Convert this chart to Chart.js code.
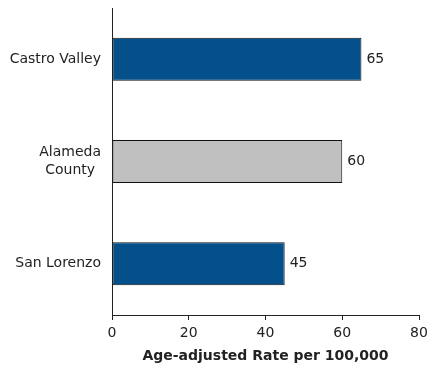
<!DOCTYPE html>
<html>
<head>
<meta charset="utf-8">
<script src="https://cdn.jsdelivr.net/npm/chart.js@4/dist/chart.umd.min.js"></script>
<style>
    html, body { margin: 0; padding: 0; background: #fff; }
    #wrap { width: 427px; height: 371px; }
</style>
</head>
<body>
<div id="wrap"><canvas id="myChart"></canvas></div>
<script>
const categories = ['Castro Valley', ['Alameda', 'County'], 'San Lorenzo'];
const rates = [65, 60, 45];
const barColors = ['#03508a', '#c0c0c0', '#03508a'];
const xTicks = [0, 20, 40, 60, 80];

const FONT = '14px "DejaVu Sans", Verdana, sans-serif';
Chart.defaults.font.family = '"DejaVu Sans", Verdana, sans-serif';
Chart.defaults.font.size = 14;
Chart.defaults.color = '#222';

// value labels at the end of each bar
const valueLabels = {
    id: 'valueLabels',
    afterDatasetsDraw(chart) {
        const ctx = chart.ctx;
        const meta = chart.getDatasetMeta(0);
        ctx.save();
        ctx.font = FONT;
        ctx.fillStyle = '#222';
        ctx.textAlign = 'left';
        ctx.textBaseline = 'middle';
        meta.data.forEach((bar, i) => {
            ctx.fillText(String(rates[i]), bar.x + 5, bar.y);
        });
        ctx.restore();
    }
};

// category labels: right-aligned block, lines centred inside it
const categoryLabels = {
    id: 'categoryLabels',
    afterDraw(chart) {
        const ctx = chart.ctx;
        const yScale = chart.scales.y;
        const rightEdge = chart.chartArea.left - 11;
        const lineH = 18;
        ctx.save();
        ctx.font = FONT;
        ctx.fillStyle = '#222';
        ctx.textAlign = 'center';
        ctx.textBaseline = 'middle';
        categories.forEach((label, i) => {
            const lines = Array.isArray(label) ? label : [label];
            const w = Math.max(...lines.map(l => ctx.measureText(l).width));
            const cx = rightEdge - w / 2;
            const cy = yScale.getPixelForTick(i);
            lines.forEach((line, j) => {
                ctx.fillText(line, cx, cy + (j - (lines.length - 1) / 2) * lineH);
            });
        });
        ctx.restore();
    }
};

new Chart(document.getElementById('myChart'), {
    type: 'bar',
    data: {
        labels: categories,
        datasets: [{
            data: rates,
            backgroundColor: barColors,
            borderColor: '#111',
            borderWidth: 1,
            borderSkipped: false,
            categoryPercentage: 1,
            barPercentage: 0.42
        }]
    },
    options: {
        indexAxis: 'y',
        responsive: true,
        maintainAspectRatio: false,
        animation: false,
        layout: {padding: {top: 8, right: 8, left: 0, bottom: 0}},
        plugins: {
            legend: {display: false},
            tooltip: {enabled: false}
        },
        scales: {
            x: {
                min: 0,
                max: 80,
                afterBuildTicks: (scale) => {
                    scale.ticks = xTicks.map(v => ({value: v}));
                },
                afterFit: (scale) => {
                    scale.height = 56;
                    scale.paddingLeft = 0;
                    scale.paddingRight = 0;
                },
                grid: {
                    drawOnChartArea: false,
                    drawTicks: true,
                    tickLength: 5,
                    color: '#222'
                },
                border: {color: '#222', width: 1},
                ticks: {padding: 5, color: '#222'},
                title: {
                    display: true,
                    text: 'Age-adjusted Rate per 100,000',
                    font: {weight: 'bold', size: 14},
                    color: '#222',
                    padding: {top: 0, bottom: 6}
                }
            },
            y: {
                afterFit: (scale) => {
                    scale.width = 112;
                    scale.paddingTop = 0;
                    scale.paddingBottom = 0;
                },
                grid: {display: false, drawTicks: false},
                border: {color: '#222', width: 1},
                ticks: {display: false}
            }
        }
    },
    plugins: [valueLabels, categoryLabels]
});
</script>
</body>
</html>
